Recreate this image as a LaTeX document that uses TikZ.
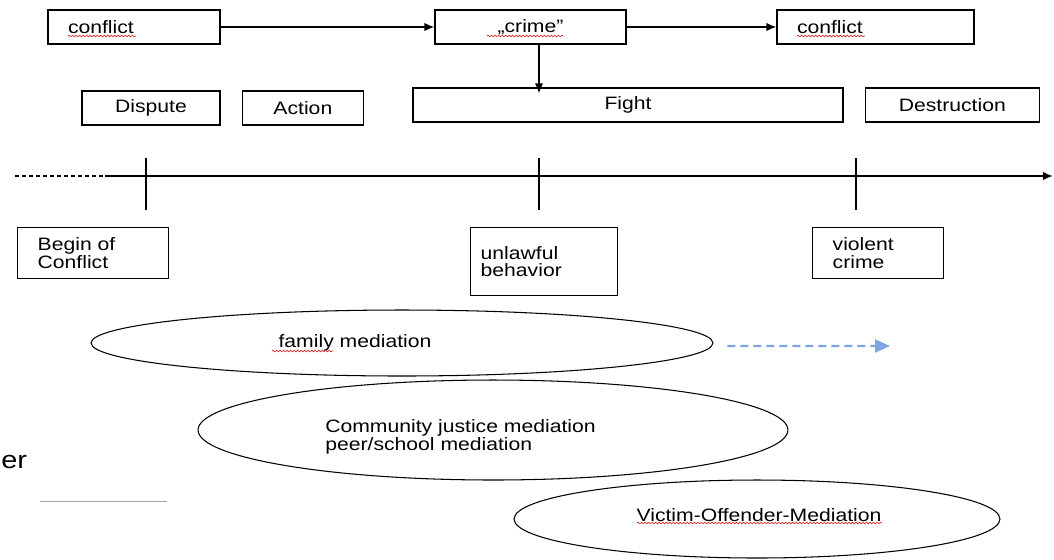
\documentclass[tikz,border=0pt]{standalone}
\usepackage{fontspec}
\setmainfont[FakeStretch=1.18]{Liberation Sans}
\usepackage{tikz}
\usetikzlibrary{arrows.meta,positioning,shapes.geometric,decorations.pathmorphing}
\definecolor{lineblue}{RGB}{125,165,230}
\definecolor{spellred}{RGB}{215,45,45}

\begin{document}
\begin{tikzpicture}[x=0.02cm, y=-0.02cm, font=\fontsize{10.2}{10}\selectfont, >={Latex[length=0.2cm, width=0.17cm]}]
\tikzstyle{b}=[draw, line width=0.8pt, minimum height=0.68cm, inner sep=0pt, align=center]
\tikzstyle{t}=[draw, line width=0.8pt, inner xsep=0.4cm, align=left, anchor=north west]
\tikzstyle{e}=[draw, ellipse, line width=0.6pt, inner sep=0pt]
\tikzstyle{sp}=[spellred, line width=0.4pt, decorate, decoration={snake, amplitude=0.45pt, segment length=2pt}]
\useasboundingbox (0,0) rectangle (1054,559);
% top row
\node[b, minimum width=3.44cm, text width=2.64cm, align=left] (conf1) at (134,27) {conflict};
\node[b, minimum width=3.82cm] (crime) at (530.5,27) {„crime"};
\node[b, minimum width=3.94cm, text width=3.14cm, align=left] (conf2) at (875.5,27) {conflict};
\draw[->, line width=0.8pt] (conf1) -- (crime);
\draw[->, line width=0.8pt] (crime) -- (conf2);
% second row
\node[b, minimum width=2.76cm] (dispute) at (151,108) {Dispute};
\node[b, minimum width=2.42cm, right=0.42cm of dispute] (action) {Action};
\node[b, minimum width=8.6cm] (fight) at (628,105) {Fight};
\node[b, minimum width=3.48cm, right=0.42cm of fight] (destr) {Destruction};
% time line
\coordinate (tl0) at (15,176);
\coordinate (tl1) at (105,176);
\coordinate (tl2) at (1053,176);
\draw[line width=1.1pt, dash pattern=on 2pt off 2pt] (tl0) -- (tl1);
\draw[->, line width=1.2pt] (tl1) -- (tl2);
\foreach \x [count=\i] in {146,539,856}
  \draw[line width=0.8pt] (\x,158) coordinate (tk\i) -- (\x,210);
\draw[->, line width=0.8pt] (crime.south -| tk2) -- ([yshift=-0.12cm]fight.north -| tk2);
% stages
\node[t, text width=2.22cm, minimum height=1.02cm] (begin) at (17,227) {Begin of\\Conflict};
\node[t, inner xsep=0.2cm, text width=2.54cm, minimum height=1.36cm] (unlawful) at (470,227) {unlawful\\behavior};
\node[t, text width=1.82cm, minimum height=1.02cm] (violent) at (812,227) {violent\\crime};
% mediation forms
\node[e, minimum width=12.44cm, minimum height=1.32cm] (fam) at (402,343) {};
\node (famtxt) at (355,343) {family mediation};
\coordinate (famend) at (890,346);
\draw[lineblue, line width=1.2pt, dash pattern=on 0.16cm off 0.1cm, -{Triangle[length=0.3cm, width=0.26cm]}] ([xshift=0.28cm, yshift=-0.06cm]fam.east) -- (famend);
\node[e, minimum width=11.8cm, minimum height=2cm] (comm) at (493,430) {};
\node[align=left, anchor=west, inner sep=0pt] (commtxt) at (325,437) {Community justice mediation\\peer/school mediation};
\node[e, minimum width=9.72cm, minimum height=1.56cm] (vom) at (757,519) {};
\node (vomtxt) at (759,515) {Victim-Offender-Mediation};
% spelling marks
\draw[sp] (68,36) -- (136,36);
\draw[sp] (487,36) -- (563,36);
\draw[sp] (797,36) -- (865,36);
\draw[sp] (272,351) -- (333,351);
\draw[sp] (637,523) -- (882,523);
% leftovers at the left edge
\node[anchor=base west, inner sep=0pt, font=\fontsize{14}{14}\selectfont] (er) at (1,468) {er};
\draw[gray!70, line width=0.5pt] (40,501) coordinate (g0) -- (167,501) coordinate (g1);
\end{tikzpicture}
\end{document}
